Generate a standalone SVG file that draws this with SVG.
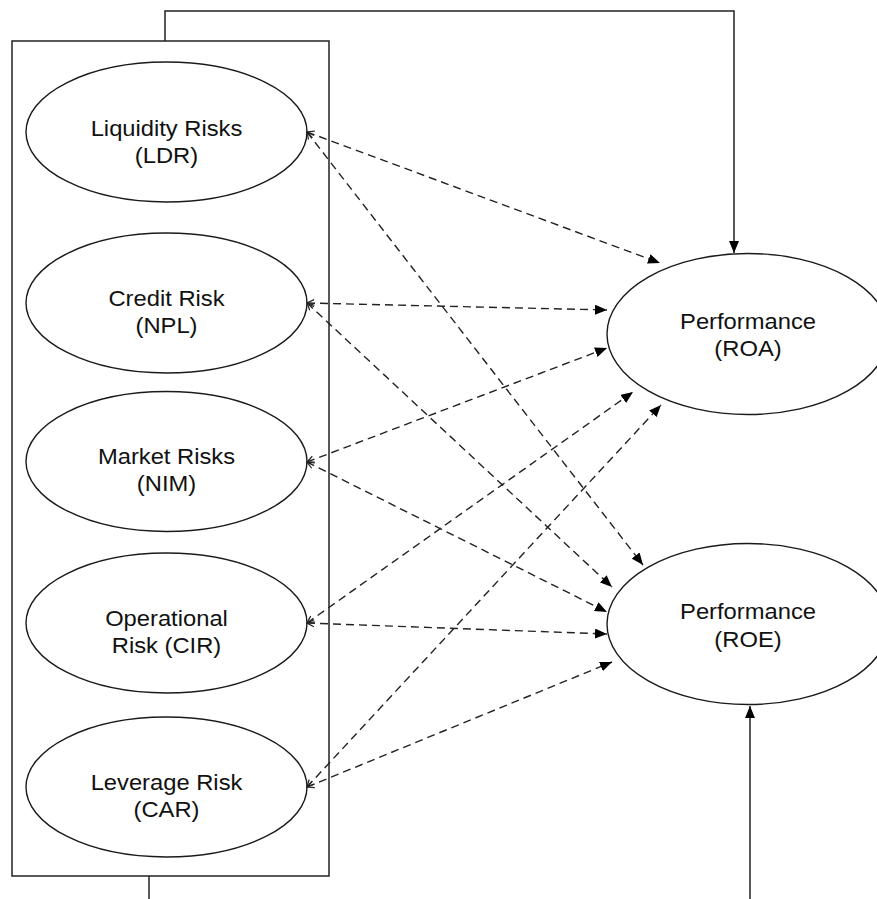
<svg xmlns="http://www.w3.org/2000/svg" width="877" height="899" viewBox="0 0 877 899">
<style>
.el{fill:#fff;stroke:#1a1a1a;stroke-width:1.4}
.lbl{font-family:"Liberation Sans",Arial,sans-serif;font-size:22px;fill:#111;text-anchor:middle}
.dash{fill:none;stroke:#222;stroke-width:1.4;stroke-dasharray:8 5;marker-start:url(#open);marker-end:url(#arr)}
.solid{fill:none;stroke:#222;stroke-width:1.5}
</style>
<defs>
<marker id="arr" viewBox="0 0 12 10" markerWidth="12" markerHeight="10" refX="12" refY="5" orient="auto" markerUnits="userSpaceOnUse">
<path d="M0,0 L12,5 L0,10 z" fill="#000" stroke="none"/>
</marker>
<marker id="open" viewBox="0 0 10 10" markerWidth="10" markerHeight="10" refX="1" refY="5" orient="auto" markerUnits="userSpaceOnUse">
<path d="M8,1.5 L1,5 L8,8.5" fill="none" stroke="#222" stroke-width="1.2" stroke-dasharray="none"/>
</marker>
</defs>
<rect width="877" height="899" fill="#fff"/>
<g id="group-box">
<rect x="12" y="41" width="317" height="835" fill="none" stroke="#222" stroke-width="1.5"/>
</g>
<g id="liquidity">
<ellipse class="el" cx="166.5" cy="132" rx="140.5" ry="70"/>
<text class="lbl" transform="matrix(1.08,0,0,1,166.5,0)" x="0" y="136">Liquidity Risks</text>
<text class="lbl" transform="matrix(1.08,0,0,1,166.5,0)" x="0" y="163">(LDR)</text>
</g>
<g id="credit">
<ellipse class="el" cx="166.5" cy="303" rx="140.5" ry="70"/>
<text class="lbl" transform="matrix(1.08,0,0,1,166.5,0)" x="0" y="306">Credit Risk</text>
<text class="lbl" transform="matrix(1.08,0,0,1,166.5,0)" x="0" y="333">(NPL)</text>
</g>
<g id="market">
<ellipse class="el" cx="166.5" cy="461.5" rx="140.5" ry="70"/>
<text class="lbl" transform="matrix(1.08,0,0,1,166.5,0)" x="0" y="464">Market Risks</text>
<text class="lbl" transform="matrix(1.08,0,0,1,166.5,0)" x="0" y="491">(NIM)</text>
</g>
<g id="operational">
<ellipse class="el" cx="166.5" cy="623" rx="140.5" ry="70"/>
<text class="lbl" transform="matrix(1.08,0,0,1,166.5,0)" x="0" y="626">Operational</text>
<text class="lbl" transform="matrix(1.08,0,0,1,166.5,0)" x="0" y="653">Risk (CIR)</text>
</g>
<g id="leverage">
<ellipse class="el" cx="166.5" cy="787" rx="140.5" ry="70"/>
<text class="lbl" transform="matrix(1.08,0,0,1,166.5,0)" x="0" y="790">Leverage Risk</text>
<text class="lbl" transform="matrix(1.08,0,0,1,166.5,0)" x="0" y="817">(CAR)</text>
</g>
<g id="roa">
<ellipse class="el" cx="748" cy="334" rx="141" ry="80.5"/>
<text class="lbl" transform="matrix(1.08,0,0,1,748,0)" x="0" y="329">Performance</text>
<text class="lbl" transform="matrix(1.08,0,0,1,748,0)" x="0" y="356">(ROA)</text>
</g>
<g id="roe">
<ellipse class="el" cx="748" cy="624" rx="141" ry="80.5"/>
<text class="lbl" transform="matrix(1.08,0,0,1,748,0)" x="0" y="619">Performance</text>
<text class="lbl" transform="matrix(1.08,0,0,1,748,0)" x="0" y="647">(ROE)</text>
</g>
<g id="connectors">
<line class="dash" x1="307" y1="132" x2="660" y2="263"/>
<line class="dash" x1="307" y1="303" x2="607" y2="310"/>
<line class="dash" x1="307" y1="462" x2="607" y2="348"/>
<line class="dash" x1="307" y1="623" x2="633" y2="392"/>
<line class="dash" x1="307" y1="787" x2="661" y2="405"/>
<line class="dash" x1="307" y1="132" x2="643" y2="565"/>
<line class="dash" x1="307" y1="303" x2="612" y2="587"/>
<line class="dash" x1="307" y1="462" x2="607" y2="612"/>
<line class="dash" x1="307" y1="623" x2="607" y2="634"/>
<line class="dash" x1="307" y1="787" x2="612" y2="662"/>
<path class="solid" d="M165,41 V11 H734 V253" marker-end="url(#arr)"/>
<path class="solid" d="M149,876 V899"/>
<path class="solid" d="M750,899 V706" marker-end="url(#arr)"/>
</g>
</svg>
